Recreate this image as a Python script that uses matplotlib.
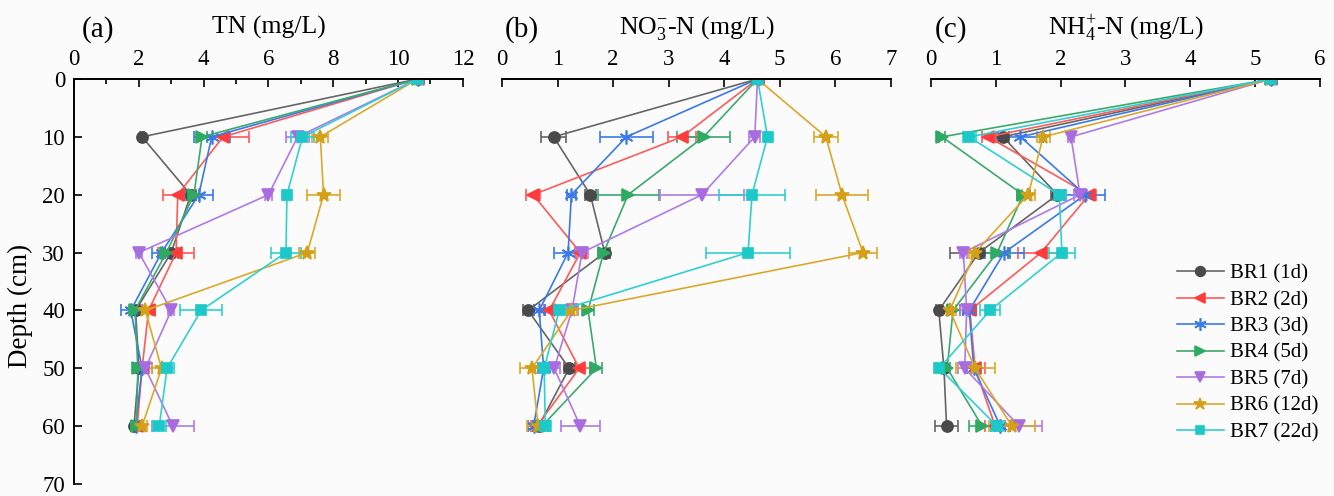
import matplotlib
matplotlib.use("Agg")
import matplotlib.pyplot as plt
from matplotlib.lines import Line2D
import numpy as np

plt.rcParams['font.family'] = ['Liberation Serif', 'DejaVu Serif']
plt.rcParams['mathtext.fontset'] = 'custom'
plt.rcParams['mathtext.rm'] = 'Liberation Serif'
plt.rcParams['mathtext.it'] = 'Liberation Serif:italic'

depths = [0, 10, 20, 30, 40, 50, 60]
labels = ["BR1 (1d)", "BR2 (2d)", "BR3 (3d)", "BR4 (5d)", "BR5 (7d)", "BR6 (12d)", "BR7 (22d)"]

tn_vals = [
    [10.6, 2.1, 3.6, 3.0, 1.9, 2.0, 1.85],
    [10.6, 4.6, 3.2, 3.15, 2.3, 2.1, 1.95],
    [10.6, 4.25, 3.85, 2.7, 1.75, 2.1, 1.9],
    [10.6, 3.95, 3.7, 2.85, 1.88, 1.97, 1.93],
    [10.6, 6.9, 6.0, 2.0, 3.0, 2.2, 3.05],
    [10.6, 7.6, 7.7, 7.2, 2.2, 2.7, 2.1],
    [10.6, 7.05, 6.57, 6.54, 3.92, 2.87, 2.63],
]
tn_err = [
    [0.1, 0.05, 0.15, 0.2, 0.1, 0.1, 0.1],
    [0.1, 0.8, 0.45, 0.55, 0.2, 0.2, 0.1],
    [0.1, 0.55, 0.45, 0.3, 0.3, 0.15, 0.1],
    [0.1, 0.15, 0.15, 0.15, 0.1, 0.1, 0.1],
    [0.1, 0.35, 0.1, 0.1, 0.1, 0.2, 0.65],
    [0.1, 0.25, 0.5, 0.25, 0.2, 0.3, 0.15],
    [0.1, 0.35, 0.1, 0.45, 0.65, 0.2, 0.2],
]
no3_vals = [
    [4.6, 0.93, 1.59, 1.85, 0.47, 1.21, 0.66],
    [4.6, 3.24, 0.56, 1.41, 0.85, 1.39, 0.63],
    [4.6, 2.24, 1.25, 1.19, 0.67, 0.75, 0.57],
    [4.6, 3.63, 2.27, 1.83, 1.55, 1.7, 0.72],
    [4.6, 4.55, 3.6, 1.44, 1.26, 0.94, 1.41],
    [4.6, 5.83, 6.12, 6.5, 1.25, 0.54, 0.65],
    [4.6, 4.78, 4.5, 4.43, 1.03, 0.76, 0.78],
]
no3_err = [
    [0.05, 0.22, 0.1, 0.1, 0.1, 0.1, 0.1],
    [0.05, 0.25, 0.12, 0.1, 0.1, 0.2, 0.1],
    [0.05, 0.48, 0.08, 0.25, 0.1, 0.1, 0.1],
    [0.05, 0.48, 0.55, 0.1, 0.1, 0.1, 0.1],
    [0.05, 0.1, 0.75, 0.1, 0.1, 0.1, 0.35],
    [0.05, 0.22, 0.46, 0.25, 0.1, 0.22, 0.2],
    [0.05, 0.05, 0.6, 0.75, 0.1, 0.1, 0.1],
]
nh4_vals = [
    [5.25, 1.11, 1.95, 0.74, 0.12, 0.2, 0.24],
    [5.25, 0.88, 2.44, 1.7, 0.6, 0.68, 0.99],
    [5.25, 1.38, 2.38, 1.13, 0.59, 0.66, 1.07],
    [5.25, 0.17, 1.42, 1.02, 0.34, 0.25, 0.79],
    [5.25, 2.16, 2.3, 0.5, 0.55, 0.52, 1.36],
    [5.25, 1.73, 1.5, 0.68, 0.29, 0.68, 1.25],
    [5.25, 0.59, 1.98, 2.02, 0.91, 0.13, 1.02],
]
nh4_err = [
    [0.05, 0.1, 0.1, 0.45, 0.05, 0.05, 0.18],
    [0.05, 0.1, 0.1, 0.35, 0.1, 0.15, 0.15],
    [0.05, 0.35, 0.3, 0.3, 0.1, 0.1, 0.15],
    [0.05, 0.05, 0.1, 0.2, 0.1, 0.05, 0.2],
    [0.05, 0.05, 0.1, 0.05, 0.1, 0.1, 0.35],
    [0.05, 0.1, 0.1, 0.1, 0.1, 0.3, 0.35],
    [0.05, 0.1, 0.1, 0.2, 0.15, 0.05, 0.1],
]

colors = ['#4a4a4a', '#ff3b3b', '#3a7ae8', '#2eaa62', '#a86ce0', '#d4a017', '#1cc8c8']
linecolors = ['#666666', '#ff5a5a', '#3a7ae8', '#3aaa6e', '#b07ae6', '#dba82a', '#30d0d0']
markers = ['o', '<', (6, 2, 0), '>', 'v', '*', 's']
msizes = [8, 8, 10, 8, 8, 10, 7]

bg = '#fbfbfb'
fig = plt.figure(figsize=(13.34, 4.96), dpi=100, facecolor=bg)

panels = [
    (0.0555, 12, "TN (mg/L)", "(a)", tn_vals, tn_err, np.arange(0, 13, 2), np.arange(1, 12, 2), 0.02),
    (0.3763, 7, "NO$_3^{-}$-N (mg/L)", "(b)", no3_vals, no3_err, np.arange(0, 8, 1), None, 0.008),
    (0.6979, 6, "NH$_4^{+}$-N (mg/L)", "(c)", nh4_vals, nh4_err, np.arange(0, 7, 1), None, 0.01),
]
width = 0.2915
top_px, bot_px = 79, 484
bottom = 1 - bot_px / 496
height = (bot_px - top_px) / 496

axes = []
for i, (left, xmax, title, plab, vals, errs, majors, minors, plx) in enumerate(panels):
    ax = fig.add_axes([left, bottom, width, height])
    ax.set_facecolor(bg)
    for k in range(7):
        ax.errorbar(vals[k], depths, xerr=errs[k], color=linecolors[k], lw=1.2,
                    marker=markers[k], ms=msizes[k], mfc=colors[k], mec=colors[k],
                    mew=1.2, ecolor=linecolors[k], elinewidth=1.2, capsize=4, capthick=1.2)
    ax.set_xlim(0, xmax)
    ax.set_ylim(70, 0)
    ax.xaxis.tick_top()
    ax.set_xticks(majors)
    if minors is not None:
        ax.set_xticks(minors, minor=True)
    ax.tick_params(axis='x', which='major', direction='in', length=6, width=1.2, labelsize=16.5, pad=6.5)
    ax.tick_params(axis='x', which='minor', direction='in', length=3.5, width=1.2)
    ax.spines['bottom'].set_visible(False)
    ax.spines['right'].set_visible(False)
    ax.spines['top'].set_linewidth(1.4)
    if i == 0:
        ax.set_yticks(np.arange(0, 71, 10))
        ax.tick_params(axis='y', direction='in', length=6, width=1.2, labelsize=16.5, pad=6.5)
        ax.spines['left'].set_linewidth(1.4)
        ax.set_ylabel("Depth (cm)", fontsize=19.5)
        ax.yaxis.set_label_coords(-0.105, 0.44)
    else:
        ax.spines['left'].set_visible(False)
        ax.set_yticks([])
    ax.text(0.5, 1.127, title, transform=ax.transAxes, ha='center', va='center', fontsize=18.5)
    ax.text(plx, 1.122, plab, transform=ax.transAxes, ha='left', va='center', fontsize=21)
    axes.append(ax)

handles = [Line2D([], [], color=linecolors[k], lw=1.2, marker=markers[k], ms=msizes[k] - 1,
                  mfc=colors[k], mec=colors[k], mew=1.2) for k in range(7)]
fig.legend(handles, labels, loc='upper left', bbox_to_anchor=(1177 / 1334, 1 - 264 / 496),
           bbox_transform=fig.transFigure, frameon=False, fontsize=15,
           handlelength=2.25, labelspacing=0.33, handletextpad=0.3,
           borderpad=0, borderaxespad=0)

fig.savefig("out.png", dpi=100, facecolor=bg)
